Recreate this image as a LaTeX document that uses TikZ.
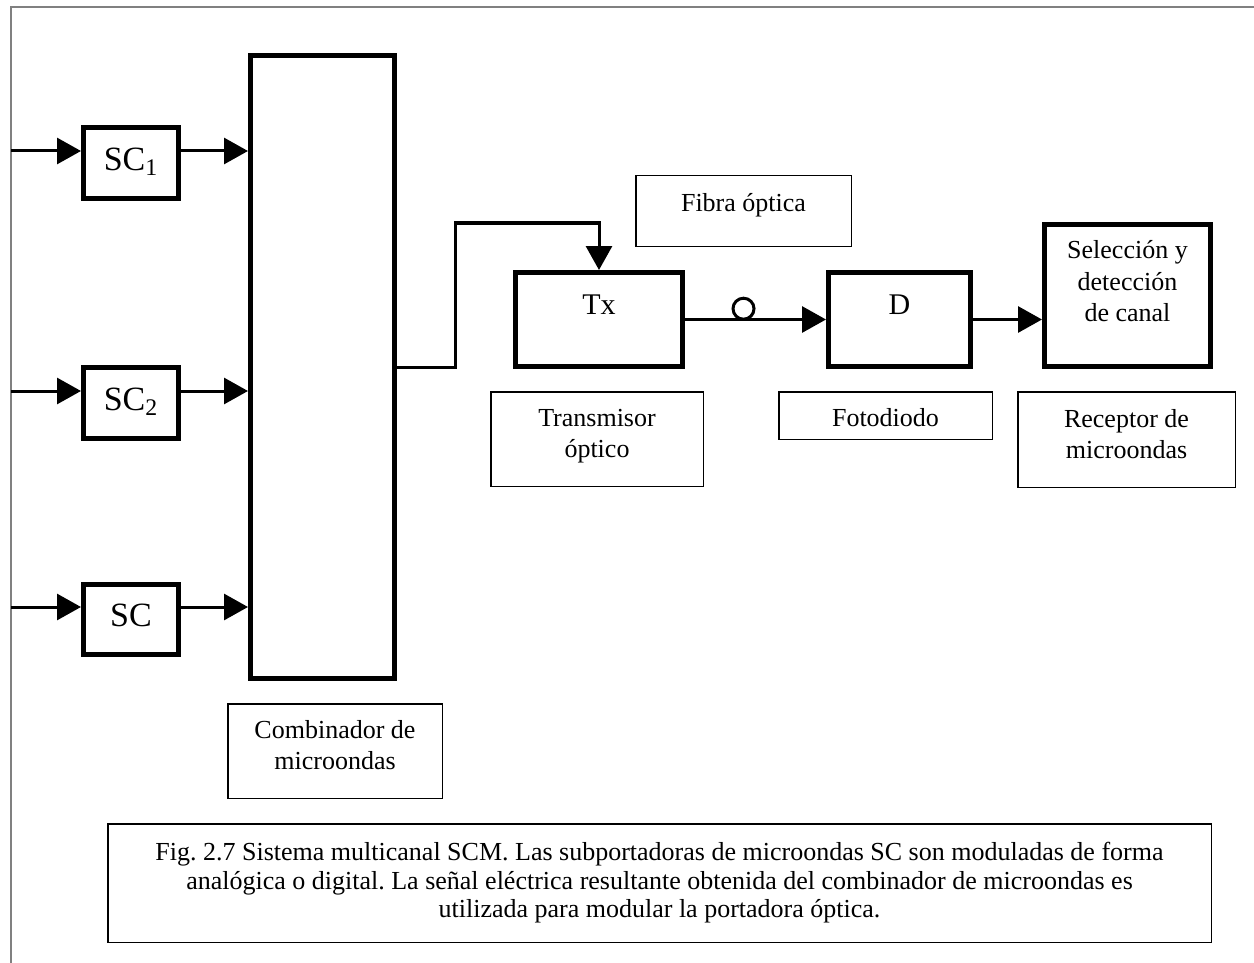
\documentclass[tikz,border=0pt]{standalone}
\usepackage{fontspec}
\setmainfont{Liberation Serif}
\usetikzlibrary{arrows.meta}
\frenchspacing
\begin{document}
\begin{tikzpicture}[x=0.5pt,y=-0.5pt,
  thickbox/.style={draw, line width=2.5pt, inner sep=0pt, align=center},
  thinbox/.style={draw, line width=0.75pt, inner sep=0pt, align=center, font=\fontsize{13}{15.5}\selectfont},
  scfont/.style={font=\fontsize{17}{20}\selectfont},
  bigfont/.style={font=\fontsize{15}{18}\selectfont},
  conn/.style={line width=1.5pt},
  arr/.style={conn, -{Triangle[length=12pt,width=13pt]}},
  fibre/.style={draw, circle, line width=1.5pt, inner sep=0pt, minimum size=10.5pt},
  framestyle/.style={draw=gray, line width=1pt}]
\useasboundingbox (0,0) rectangle (1254,963);
% outer frame
\draw[framestyle] (11,963) -- (11,7) -- (1254,7);
% subcarrier boxes
\node[thickbox, scfont, minimum width=47.5pt, minimum height=35.5pt, text depth=4pt] (sc1) at (131,163) {SC\textsubscript{1}};
\node[thickbox, scfont, minimum width=47.5pt, minimum height=35.5pt, text depth=4pt] (sc2) at (131,403) {SC\textsubscript{2}};
\node[thickbox, scfont, minimum width=47.5pt, minimum height=35pt, text depth=4pt] (sc3) at (131,619.5) {SC};
% combiner
\node[thickbox, minimum width=72pt, minimum height=311.5pt] (comb) at (322.5,367) {};
\node[thinbox, minimum width=107.25pt, minimum height=47.25pt, text depth=6pt] (combl) at (335,751) {Combinador de\\microondas};
% transmitter, detector, receiver
\node[thickbox, bigfont, minimum width=83.5pt, minimum height=47pt, text depth=15pt] (tx) at (599,319.5) {Tx};
\node[thickbox, bigfont, minimum width=71pt, minimum height=47pt, text depth=15pt] (d) at (899.5,319.5) {D};
\node[thickbox, font=\fontsize{13}{15.75}\selectfont, minimum width=83pt, minimum height=71pt, text depth=14.5pt] (sel) at (1127.5,295.5) {Selección y\\detección\\de canal};
% labels
\node[thinbox, minimum width=107.75pt, minimum height=35.25pt, text depth=8.8pt] (fib) at (743.5,211) {Fibra óptica};
\node[thinbox, minimum width=106.25pt, minimum height=47.25pt, text depth=5.8pt] (txl) at (597,439) {Transmisor\\óptico};
\node[thinbox, minimum width=106.75pt, minimum height=23.75pt, text height=11.4pt] (dl) at (885.5,415.5) {Fotodiodo};
\node[thinbox, minimum width=108.75pt, minimum height=47.75pt, text depth=6pt] (rxl) at (1126.5,439.5) {Receptor de\\microondas};
% caption
\node[thinbox, font=\fontsize{13}{14.25}\selectfont, minimum width=551.75pt, minimum height=59.25pt] (cap) at (659.5,883)
  {Fig. 2.7 Sistema multicanal SCM. Las subportadoras de microondas SC son moduladas de forma\\
   analógica o digital. La señal eléctrica resultante obtenida del combinador de microondas es\\
   utilizada para modular la portadora óptica.};
% inputs
\coordinate (in1) at (11,151);
\coordinate (in2) at (11,391);
\coordinate (in3) at (11,607);
\draw[arr] (in1) -- (in1 -| sc1.west);
\draw[arr] (in1 -| sc1.east) -- (in1 -| comb.west);
\draw[arr] (in2) -- (in2 -| sc2.west);
\draw[arr] (in2 -| sc2.east) -- (in2 -| comb.west);
\draw[arr] (in3) -- (in3 -| sc3.west);
\draw[arr] (in3 -| sc3.east) -- (in3 -| comb.west);
% combiner to transmitter
\coordinate (k1) at (455,223);
\draw[arr] (comb.east) -| (k1) -- (k1 -| tx.north) -- (tx.north);
% optical fibre
\draw[arr] (tx.east) -- node[fibre, pos=0.415, yshift=5.4pt] (fc) {} (d.west);
% detector to receiver
\draw[arr] (d.east) -- (d.east -| sel.west);
\end{tikzpicture}
\end{document}
